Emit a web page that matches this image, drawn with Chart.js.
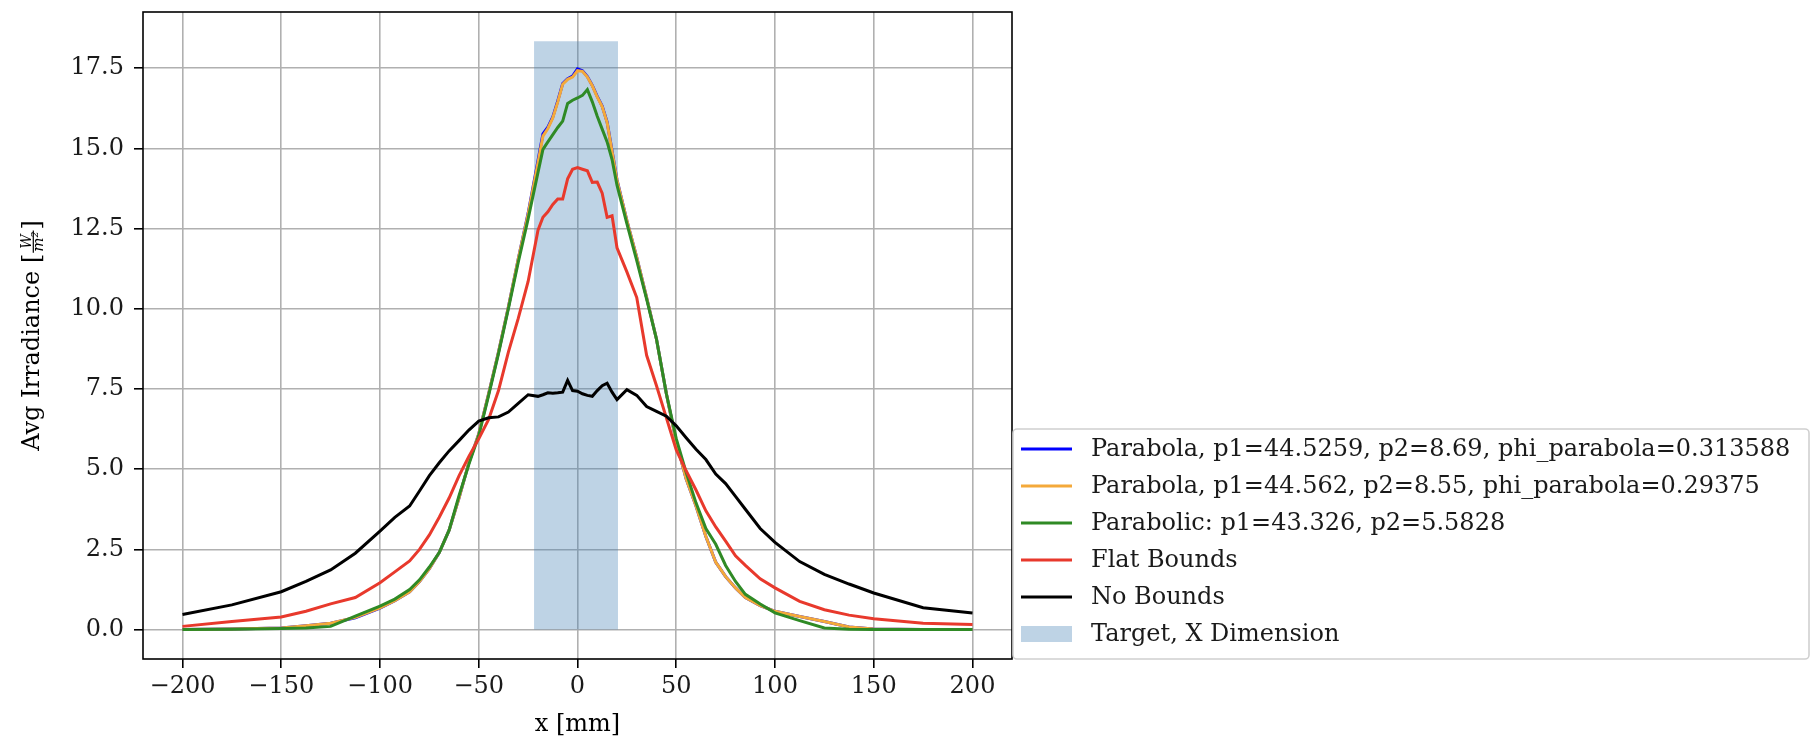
<!DOCTYPE html>
<html>
<head>
<meta charset="utf-8">
<script src="https://cdn.jsdelivr.net/npm/chart.js@4.4.1/dist/chart.umd.min.js"></script>
<style>
  html, body { margin: 0; padding: 0; background: #fff; }
  canvas { display: block; }
</style>
</head>
<body>
<canvas id="chart" width="1812" height="738"></canvas>
<script>
// x positions (mm) shared by all profile curves
const xs = [-200, -175, -150, -137.5, -125, -112.5, -100, -92.5, -85, -80,
    -75, -70, -65, -60, -55, -50, -45, -40, -35, -30,
    -25, -20, -17.5, -15, -12.5, -10, -7.5, -5, -2.5, 0,
    2.5, 5, 7.5, 10, 12.5, 15, 17.5, 20, 25, 30,
    35, 40, 45, 50, 55, 60, 65, 70, 75, 80,
    85, 92.5, 100, 112.5, 125, 137.5, 150, 175, 200];

const parabolaA = [0, 0.02, 0.05, 0.12, 0.2, 0.37, 0.67, 0.9, 1.18, 1.5,
    1.9, 2.4, 3.1, 4.1, 5.2, 6.1, 7.35, 8.65, 10.05, 11.55,
    12.98, 14.62, 15.45, 15.66, 15.98, 16.48, 17.02, 17.17, 17.25, 17.48,
    17.42, 17.24, 16.96, 16.62, 16.32, 15.82, 14.92, 14.02, 12.75, 11.6,
    10.35, 9.05, 7.35, 5.85, 4.7, 3.85, 2.9, 2.1, 1.65, 1.3,
    1.0, 0.75, 0.57, 0.41, 0.25, 0.08, 0.02, 0, 0];

const parabolaB = [0, 0.02, 0.05, 0.12, 0.2, 0.38, 0.68, 0.9, 1.18, 1.5,
    1.9, 2.4, 3.1, 4.1, 5.2, 6.1, 7.35, 8.65, 10.05, 11.55,
    12.95, 14.55, 15.38, 15.62, 15.95, 16.45, 17.0, 17.15, 17.22, 17.42,
    17.4, 17.22, 16.95, 16.6, 16.3, 15.8, 14.9, 14.0, 12.75, 11.6,
    10.35, 9.05, 7.35, 5.85, 4.7, 3.85, 2.9, 2.1, 1.65, 1.3,
    1.0, 0.75, 0.57, 0.41, 0.25, 0.08, 0.02, 0, 0];

const parabolic = [0, 0.01, 0.03, 0.05, 0.1, 0.42, 0.73, 0.95, 1.25, 1.55,
    1.95, 2.4, 3.1, 4.17, 5.15, 6.05, 7.3, 8.6, 10.0, 11.45,
    12.8, 14.25, 14.97, 15.2, 15.43, 15.65, 15.85, 16.4, 16.5, 16.57,
    16.65, 16.83, 16.45, 16.0, 15.6, 15.2, 14.65, 13.85, 12.65, 11.5,
    10.3, 9.05, 7.35, 5.95, 4.9, 3.95, 3.15, 2.66, 2.0, 1.5,
    1.1, 0.8, 0.52, 0.28, 0.05, 0.01, 0, 0, 0];

const flatBounds = [0.1, 0.25, 0.39, 0.57, 0.8, 1.0, 1.46, 1.8, 2.14, 2.5,
    2.95, 3.5, 4.1, 4.79, 5.4, 5.95, 6.55, 7.45, 8.65, 9.7,
    10.85, 12.45, 12.85, 13.02, 13.25, 13.42, 13.42, 14.05, 14.35, 14.4,
    14.35, 14.3, 13.94, 13.95, 13.6, 12.85, 12.9, 11.9, 11.15, 10.35,
    8.55, 7.6, 6.6, 5.6, 4.95, 4.35, 3.7, 3.2, 2.76, 2.3,
    2.0, 1.58, 1.3, 0.88, 0.62, 0.45, 0.34, 0.2, 0.16];

const noBounds = [0.47, 0.77, 1.18, 1.5, 1.86, 2.38, 3.07, 3.5, 3.85, 4.32,
    4.8, 5.2, 5.57, 5.89, 6.22, 6.5, 6.6, 6.63, 6.78, 7.05,
    7.32, 7.27, 7.32, 7.38, 7.37, 7.38, 7.4, 7.77, 7.45, 7.43,
    7.35, 7.3, 7.27, 7.45, 7.6, 7.68, 7.4, 7.17, 7.48, 7.3,
    6.95, 6.8, 6.65, 6.35, 5.98, 5.62, 5.3, 4.85, 4.55, 4.15,
    3.75, 3.15, 2.72, 2.12, 1.72, 1.42, 1.14, 0.68, 0.52];

// target span along x and its height
const targetX = [-22, 20.5];
const targetY = [18.34, 18.34];

const seriesLabels = [
    'Parabola, p1=44.5259, p2=8.69, phi_parabola=0.313588',
    'Parabola, p1=44.562, p2=8.55, phi_parabola=0.29375',
    'Parabolic: p1=43.326, p2=5.5828',
    'Flat Bounds',
    'No Bounds',
    'Target, X Dimension'
];
const seriesColors = ['#0000ff', '#f4a93a', '#2f8a25', '#e8392c', '#000000'];
const targetColor = 'rgba(70, 130, 180, 0.35)';

const xTitle = 'x [mm]';
const yTitleParts = ['Avg Irradiance [', 'W', 'm²', ']'];

const FONT = "'DejaVu Serif', serif";
const FS = 24;

const toPoints = (xv, yv) => xv.map((x, i) => ({ x: x, y: yv[i] }));
const mpl = v => String(v).replace('-', '\u2212');

const curves = [parabolaA, parabolaB, parabolic, flatBounds, noBounds];
const datasets = curves.map((ys, i) => ({
    label: seriesLabels[i],
    data: toPoints(xs, ys),
    borderColor: seriesColors[i],
    backgroundColor: seriesColors[i],
    borderWidth: 3,
    pointRadius: 0,
    tension: 0,
    fill: false,
    order: 4 - i
}));
datasets.push({
    label: seriesLabels[5],
    data: toPoints(targetX, targetY),
    borderWidth: 0,
    borderColor: 'rgba(0,0,0,0)',
    backgroundColor: targetColor,
    pointRadius: 0,
    fill: 'origin',
    order: 10
});

// frame around the axes, like matplotlib spines
const framePlugin = {
    id: 'frame',
    afterDatasetsDraw(chart) {
        const { ctx, chartArea: a } = chart;
        ctx.save();
        ctx.strokeStyle = '#000';
        ctx.lineWidth = 1.6;
        ctx.strokeRect(a.left, a.top, a.right - a.left, a.bottom - a.top);
        ctx.restore();
    }
};

// axis titles (the y one has a small fraction)
const titlePlugin = {
    id: 'titles',
    afterDraw(chart) {
        const { ctx, chartArea: a } = chart;
        ctx.save();
        ctx.fillStyle = '#000';
        ctx.font = FS + 'px ' + FONT;
        ctx.textAlign = 'center';
        ctx.textBaseline = 'alphabetic';
        ctx.fillText(xTitle, (a.left + a.right) / 2, 731);

        ctx.translate(39, (a.top + a.bottom) / 2);
        ctx.rotate(-Math.PI / 2);
        ctx.textAlign = 'left';
        const numFont = 'italic 14px ' + FONT;
        const denFont = 'italic 15px ' + FONT;
        ctx.font = FS + 'px ' + FONT;
        const w1 = ctx.measureText(yTitleParts[0]).width;
        const w4 = ctx.measureText(yTitleParts[3]).width;
        ctx.font = numFont;
        const wn = ctx.measureText(yTitleParts[1]).width;
        ctx.font = denFont;
        const wd = ctx.measureText(yTitleParts[2]).width;
        const wf = Math.max(wn, wd) + 4;
        let x = -(w1 + wf + w4) / 2;
        ctx.font = FS + 'px ' + FONT;
        ctx.fillText(yTitleParts[0], x, 0);
        x += w1;
        ctx.font = numFont;
        ctx.fillText(yTitleParts[1], x + (wf - wn) / 2, -8.5);
        ctx.font = denFont;
        ctx.fillText(yTitleParts[2], x + (wf - wd) / 2, 4);
        ctx.fillRect(x + 1, -6.3, wf - 2, 1.2);
        x += wf;
        ctx.font = FS + 'px ' + FONT;
        ctx.fillText(yTitleParts[3], x, 0);
        ctx.restore();
    }
};

// matplotlib-style legend in the lower right, outside the axes
const legendPlugin = {
    id: 'mplLegend',
    afterDraw(chart) {
        const { ctx } = chart;
        const left = 1013, top = 429, right = 1809, bottom = 659;
        ctx.save();
        ctx.fillStyle = 'rgba(255,255,255,0.8)';
        ctx.strokeStyle = '#d0d0d0';
        ctx.lineWidth = 1.6;
        ctx.beginPath();
        ctx.roundRect(left, top, right - left, bottom - top, 4);
        ctx.fill();
        ctx.stroke();

        ctx.font = FS + 'px ' + FONT;
        ctx.textBaseline = 'middle';
        ctx.textAlign = 'left';
        chart.data.datasets.forEach((ds, i) => {
            const y = 449 + i * 37;
            if (ds.fill === 'origin') {
                ctx.fillStyle = ds.backgroundColor;
                ctx.fillRect(1021, y - 8, 51, 16);
            } else {
                ctx.strokeStyle = ds.borderColor;
                ctx.lineWidth = ds.borderWidth;
                ctx.beginPath();
                ctx.moveTo(1021, y);
                ctx.lineTo(1072, y);
                ctx.stroke();
            }
            ctx.fillStyle = '#1a1a1a';
            ctx.fillText(ds.label, 1091, y + 1);
        });
        ctx.restore();
    }
};

const axisCommon = {
    type: 'linear',
    border: { display: false },
    grid: {
        color: '#b0b0b0',
        lineWidth: 1.6,
        tickColor: '#000',
        tickLength: 9,
        tickWidth: 1.6
    }
};

// keep Chart.js from reserving extra room for edge labels
const noEdgePadding = s => {
    s.paddingTop = 0;
    s.paddingBottom = 0;
    s.paddingLeft = 0;
    s.paddingRight = 0;
};

new Chart(document.getElementById('chart'), {
    type: 'line',
    data: { datasets: datasets },
    options: {
        responsive: false,
        animation: false,
        devicePixelRatio: 1,
        layout: { padding: { top: 12, right: 800, left: 0, bottom: 0 } },
        plugins: {
            legend: { display: false },
            tooltip: { enabled: false }
        },
        scales: {
            x: {
                ...axisCommon,
                min: -220,
                max: 220,
                ticks: {
                    stepSize: 50,
                    includeBounds: false,
                    maxRotation: 0,
                    padding: 4,
                    color: '#1a1a1a',
                    font: { family: FONT, size: FS },
                    callback: v => mpl(v)
                },
                afterFit: s => { s.height = 79; noEdgePadding(s); }
            },
            y: {
                ...axisCommon,
                min: -0.917,
                max: 19.25,
                ticks: {
                    stepSize: 2.5,
                    includeBounds: false,
                    padding: 10,
                    color: '#1a1a1a',
                    font: { family: FONT, size: FS },
                    callback: v => mpl(v.toFixed(1))
                },
                afterFit: s => { s.width = 143; noEdgePadding(s); }
            }
        }
    },
    plugins: [framePlugin, titlePlugin, legendPlugin]
});
</script>
</body>
</html>
